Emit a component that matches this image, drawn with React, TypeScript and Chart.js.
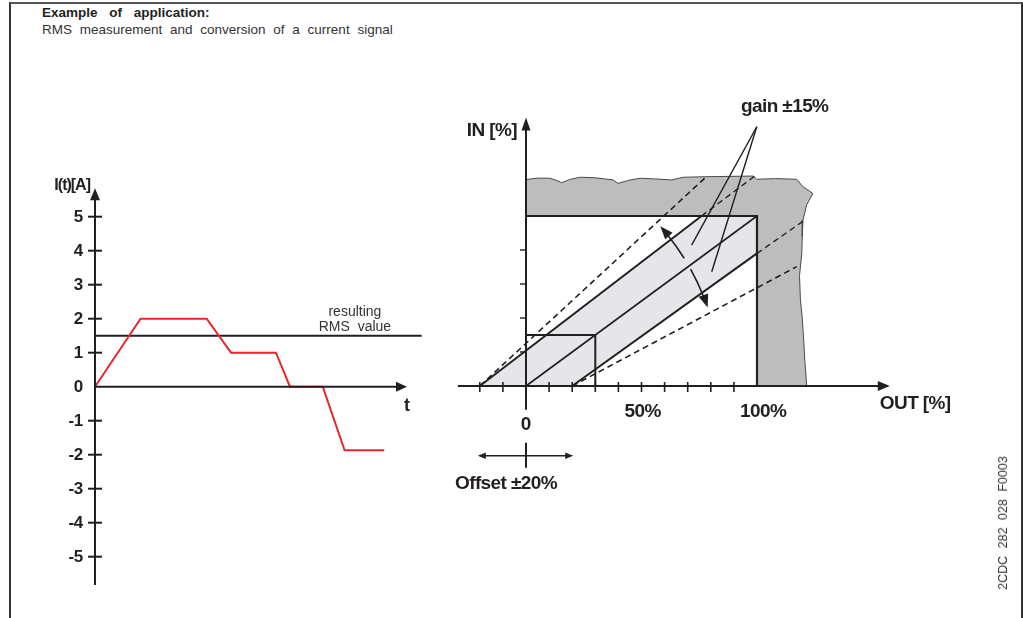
import React, { useEffect, useRef } from "react";
import { Chart, registerables } from "chart.js";

Chart.register(...registerables);

const W = 1023;
const H = 618;
const FONT = '"Liberation Sans", Arial, Helvetica, sans-serif';

// ---------- Left diagram: I(t)[A] ----------
const timePoints = [0, 1.46, 3.58, 4.36, 5.8, 6.25, 7.3, 8.0, 9.27];
const currentPoints = [0, 2, 2, 1, 1, 0, 0, -1.87, -1.87];
const rmsLevel = 1.5;
const rmsTimeSpan = [0, 10.47];
const currentTicks = [5, 4, 3, 2, 1, 0, -1, -2, -3, -4, -5];
const currentTickLabels = ["5", "4", "3", "2", "1", "0", "-1", "-2", "-3", "-4", "-5"];
const currentAxisSpan = [-5.83, 5.84];
const timeAxisSpan = [0, 10];

// ---------- Right diagram: IN [%] vs OUT [%] ----------
const outTicks = [-20, -10, 10, 20, 30, 40, 50, 60, 70, 80, 90];
const inTicks = [20, 40, 60, 80];
const outLabelValues = [50, 100];
const outLabelTexts = ["50%", "100%"];
const outAxisSpan = [-29.5, 157.5];
const inAxisSpan = [-14, 158];
const offsetRange = [-20, 20];
const offsetMarkerLevel = -41;
const gainLabelAt = { x: 112, y: 164 };

const overRangeArea = [
  { x: 0, y: 100 }, { x: 0, y: 121.4 }, { x: 5, y: 122.3 }, { x: 10.4, y: 122.2 },
  { x: 13, y: 121 }, { x: 15.5, y: 119.6 }, { x: 19, y: 121.5 }, { x: 23.4, y: 122.8 },
  { x: 30, y: 122.5 }, { x: 37.7, y: 121.2 }, { x: 39.8, y: 119.2 }, { x: 45, y: 121.2 },
  { x: 49.4, y: 122.2 }, { x: 56, y: 121.8 }, { x: 63.1, y: 121.2 }, { x: 68, y: 122.8 },
  { x: 77.5, y: 123.1 }, { x: 98.3, y: 123.5 }, { x: 99.9, y: 121.6 }, { x: 108, y: 122 },
  { x: 117.2, y: 121.6 }, { x: 119.9, y: 117.2 }, { x: 124.2, y: 113.3 }, { x: 121.5, y: 106.5 },
  { x: 119.9, y: 97.6 }, { x: 119.6, y: 88 }, { x: 119.4, y: 78.2 }, { x: 118.4, y: 65 },
  { x: 118.8, y: 50.6 }, { x: 119.6, y: 40 }, { x: 120.2, y: 27.1 }, { x: 120.7, y: 15 },
  { x: 121.5, y: 0.6 }, { x: 121.5, y: 0 }, { x: 100, y: 0 }, { x: 100, y: 100 }, { x: 0, y: 100 },
];
const offsetBand = [
  { x: -20, y: 0 }, { x: 76, y: 100 }, { x: 100, y: 100 }, { x: 100, y: 78 }, { x: 20, y: 0 }, { x: -20, y: 0 },
];
const fullScaleBox = [{ x: 0, y: 100 }, { x: 100, y: 100 }, { x: 100, y: 0 }];
const smallBox = [{ x: 0, y: 30 }, { x: 30, y: 30 }, { x: 30, y: 0 }];
const idealLine = [{ x: 0, y: 0 }, { x: 100, y: 100 }];
const negOffsetLine = [{ x: -20, y: 0 }, { x: 76, y: 100 }];
const negOffsetExtension = [{ x: 76, y: 100 }, { x: 99, y: 123.5 }];
const posOffsetLine = [{ x: 20, y: 0 }, { x: 100, y: 78 }];
const posOffsetExtension = [{ x: 100, y: 78 }, { x: 120, y: 97 }];
const gainUpLine = [{ x: -20, y: 0 }, { x: 77.5, y: 122.4 }];
const gainDownLine = [{ x: 20, y: 0 }, { x: 117.2, y: 70.2 }];
const gainLeaderA = [{ x: 99.9, y: 152.5 }, { x: 71.7, y: 82.9 }];
const gainLeaderB = [{ x: 99.9, y: 152.5 }, { x: 80.4, y: 67.2 }];

// arcs of the gain arrows (degrees, around the -20% offset origin)
const gainArcUp = [32, 41.5];
const gainArcDown = [29, 19];

function fitX(v0: number, p0: number, v1: number, p1: number) {
  const k = (p1 - p0) / (v1 - v0);
  const min = v0 - p0 / k;
  return { min, max: min + W / k };
}
function fitY(v0: number, p0: number, v1: number, p1: number) {
  const k = (p0 - p1) / (v1 - v0);
  const max = v0 + p0 / k;
  return { min: max - H / k, max };
}

function seg(ctx: any, x1: number, y1: number, x2: number, y2: number, w: number, color: string) {
  ctx.save();
  ctx.strokeStyle = color;
  ctx.lineWidth = w;
  ctx.beginPath();
  ctx.moveTo(x1, y1);
  ctx.lineTo(x2, y2);
  ctx.stroke();
  ctx.restore();
}
function head(ctx: any, tx: number, ty: number, dx: number, dy: number, len: number, half: number, color: string) {
  const n = Math.hypot(dx, dy);
  dx /= n;
  dy /= n;
  const bx = tx - dx * len;
  const by = ty - dy * len;
  ctx.save();
  ctx.fillStyle = color;
  ctx.beginPath();
  ctx.moveTo(tx, ty);
  ctx.lineTo(bx - dy * half, by + dx * half);
  ctx.lineTo(bx + dy * half, by - dx * half);
  ctx.closePath();
  ctx.fill();
  ctx.restore();
}
function txt(ctx: any, s: string, x: number, y: number, font: string, align: string, color: string, spacing = "0px", wordSpacing = "0px") {
  ctx.save();
  ctx.font = font;
  ctx.textAlign = align;
  ctx.textBaseline = "middle";
  ctx.fillStyle = color;
  try {
    ctx.letterSpacing = spacing;
    ctx.wordSpacing = wordSpacing;
  } catch (e) {}
  ctx.fillText(s, x, y);
  ctx.restore();
}

const INK = "#231f20";

const decorPlugin = {
  id: "diagramDecor",
  afterDatasetsDraw(chart: any) {
    const ctx = chart.ctx;
    const { xL, yL, xR, yR } = chart.scales;
    const bold = (s: number) => `bold ${s}px ${FONT}`;

    // ---- left axes ----
    const ax0 = xL.getPixelForValue(0);
    const ay0 = yL.getPixelForValue(0);
    const yTop = yL.getPixelForValue(currentAxisSpan[1]);
    const yBot = yL.getPixelForValue(currentAxisSpan[0]);
    seg(ctx, ax0, yBot, ax0, yTop + 8, 2, INK);
    head(ctx, ax0, yTop, 0, -1, 12, 5, INK);
    const xTip = xL.getPixelForValue(timeAxisSpan[1]);
    seg(ctx, ax0, ay0, xTip - 8, ay0, 2, INK);
    head(ctx, xTip, ay0, 1, 0, 11, 5, INK);
    currentTicks.forEach((v, i) => {
      const py = yL.getPixelForValue(v);
      if (v !== 0) seg(ctx, ax0 - 7, py, ax0 + 7, py, 2, INK);
      txt(ctx, currentTickLabels[i], ax0 - 12, py + 1, bold(17), "right", INK, "-0.3px");
    });
    txt(ctx, "I(t)[A]", ax0 - 5, yTop - 3, bold(16), "right", INK, "-1px");
    txt(ctx, "t", xTip, ay0 + 19, bold(18), "center", INK);
    const rmsY = yL.getPixelForValue(rmsLevel);
    const labX = xL.getPixelForValue(8.33);
    txt(ctx, "resulting", labX, rmsY - 24, `14px ${FONT}`, "center", "#333");
    txt(ctx, "RMS value", labX, rmsY - 9, `14px ${FONT}`, "center", "#333", "0px", "4px");

    // ---- right axes ----
    const bx0 = xR.getPixelForValue(0);
    const by0 = yR.getPixelForValue(0);
    const inTop = yR.getPixelForValue(inAxisSpan[1]);
    seg(ctx, bx0, yR.getPixelForValue(inAxisSpan[0]), bx0, inTop + 8, 2, INK);
    head(ctx, bx0, inTop, 0, -1, 13, 4.5, INK);
    inTicks.forEach((v) => {
      const py = yR.getPixelForValue(v);
      seg(ctx, bx0 - 6, py, bx0, py, 1.4, INK);
    });
    const outTip = xR.getPixelForValue(outAxisSpan[1]);
    seg(ctx, xR.getPixelForValue(outAxisSpan[0]), by0, outTip - 8, by0, 2, INK);
    head(ctx, outTip, by0, 1, 0, 12, 5, INK);
    outTicks.forEach((v) => {
      const px = xR.getPixelForValue(v);
      seg(ctx, px, by0 - 4, px, by0 + 6, 1.6, INK);
    });
    txt(ctx, "IN [%]", bx0 - 9, inTop + 13, bold(19), "right", INK, "-0.6px");
    txt(ctx, "OUT [%]", outTip - 10, by0 + 18, bold(19), "left", INK, "-0.6px");
    txt(ctx, "0", bx0, by0 + 39, bold(19), "center", INK);
    outLabelValues.forEach((v, i) => {
      txt(ctx, outLabelTexts[i], xR.getPixelForValue(v) - 17, by0 + 26, bold(19), "left", INK, "-0.6px");
    });

    // offset marker
    const oy = yR.getPixelForValue(offsetMarkerLevel);
    const ol = xR.getPixelForValue(offsetRange[0]) - 2;
    const orr = xR.getPixelForValue(offsetRange[1]) + 1;
    seg(ctx, ol + 6, oy, orr - 6, oy, 1.5, INK);
    head(ctx, ol, oy, -1, 0, 8, 3.2, INK);
    head(ctx, orr, oy, 1, 0, 8, 3.2, INK);
    seg(ctx, bx0, oy - 13, bx0, oy + 12, 2, INK);
    txt(ctx, "Offset ±20%", bx0 - 20, by0 + 98, bold(19), "center", INK, "-0.6px");

    // gain label
    txt(ctx, "gain ±15%", xR.getPixelForValue(gainLabelAt.x), yR.getPixelForValue(gainLabelAt.y), bold(19), "center", INK, "-0.6px");

    // gain arcs around the negative-offset origin
    const cx = xR.getPixelForValue(offsetRange[0]);
    const cy = by0;
    const r = 241;
    const rad = (d: number) => (d * Math.PI) / 180;
    ctx.save();
    ctx.strokeStyle = INK;
    ctx.lineWidth = 1.6;
    ctx.beginPath();
    ctx.arc(cx, cy, r, -rad(gainArcUp[0]), -rad(gainArcUp[1] - 3), true);
    ctx.stroke();
    ctx.beginPath();
    ctx.arc(cx, cy, r, -rad(gainArcDown[0]), -rad(gainArcDown[1] + 3), false);
    ctx.stroke();
    ctx.restore();
    const tU = rad(gainArcUp[1]);
    head(ctx, cx + r * Math.cos(tU), cy - r * Math.sin(tU), -Math.sin(tU), -Math.cos(tU), 13, 5, INK);
    const tD = rad(gainArcDown[1]);
    head(ctx, cx + r * Math.cos(tD), cy - r * Math.sin(tD), Math.sin(tD), Math.cos(tD), 13, 5, INK);
  },
};

function lineDs(data: any[], axes: "L" | "R", color: string, width: number, order: number, extra: any = {}) {
  return {
    data,
    xAxisID: "x" + axes,
    yAxisID: "y" + axes,
    showLine: true,
    borderColor: color,
    borderWidth: width,
    pointRadius: 0,
    pointHoverRadius: 0,
    fill: false,
    tension: 0,
    order,
    ...extra,
  };
}

export default function App() {
  const ref = useRef<HTMLCanvasElement | null>(null);

  useEffect(() => {
    if (!ref.current) return;
    const redLine = timePoints.map((t, i) => ({ x: t, y: currentPoints[i] }));
    const rmsLine = rmsTimeSpan.map((t) => ({ x: t, y: rmsLevel }));
    const dash = [6, 4];
    const chart = new Chart(ref.current, {
      type: "scatter",
      data: {
        datasets: [
          lineDs(overRangeArea, "R", "#4a4a4a", 1, 20, { fill: "shape", backgroundColor: "#bdbdbd" }),
          lineDs(offsetBand, "R", "rgba(0,0,0,0)", 0, 19, { fill: "shape", backgroundColor: "#e6e5ea" }),
          lineDs(gainUpLine, "R", INK, 1.6, 10, { borderDash: dash }),
          lineDs(gainDownLine, "R", INK, 1.6, 10, { borderDash: dash }),
          lineDs(negOffsetExtension, "R", INK, 1.4, 10, { borderDash: dash }),
          lineDs(posOffsetExtension, "R", INK, 1.4, 10, { borderDash: dash }),
          lineDs(fullScaleBox, "R", INK, 2.2, 8),
          lineDs(smallBox, "R", INK, 2, 8),
          lineDs(idealLine, "R", INK, 1.6, 7),
          lineDs(negOffsetLine, "R", INK, 2, 7),
          lineDs(posOffsetLine, "R", INK, 2, 7),
          lineDs(gainLeaderA, "R", INK, 1.4, 6),
          lineDs(gainLeaderB, "R", INK, 1.4, 6),
          lineDs(rmsLine, "L", INK, 2, 6),
          lineDs(redLine, "L", "#e8262b", 2, 5),
        ],
      },
      options: {
        responsive: false,
        animation: false,
        events: [],
        layout: { padding: 0 },
        plugins: {
          legend: { display: false },
          tooltip: { enabled: false },
          title: { display: false },
        },
        scales: {
          xL: { type: "linear", axis: "x", display: false, bounds: "data", ...fitX(0, 95, 10, 407) },
          yL: { type: "linear", axis: "y", display: false, bounds: "data", ...fitY(0, 386.7, 5, 216.7) },
          xR: { type: "linear", axis: "x", display: false, bounds: "data", ...fitX(0, 526, 100, 757) },
          yR: { type: "linear", axis: "y", display: false, bounds: "data", ...fitY(0, 386, 100, 216) },
        },
      } as any,
      plugins: [decorPlugin as any],
    });
    return () => chart.destroy();
  }, []);

  return (
    <div
      style={{
        position: "fixed",
        left: 0,
        top: 0,
        width: W,
        height: H,
        background: "#fff",
        overflow: "hidden",
        fontFamily: FONT,
        color: INK,
      }}
    >
      <div
        style={{
          position: "absolute",
          left: 9,
          top: 2,
          width: 1010,
          height: 700,
          borderLeft: "2px solid #333",
          borderTop: "2px solid #555",
          borderRight: "2px solid #333",
        }}
      />
      <div style={{ position: "absolute", left: 42, top: 5, fontSize: 13.5, fontWeight: "bold", wordSpacing: 8, whiteSpace: "nowrap" }}>
        Example of application:
      </div>
      <div style={{ position: "absolute", left: 42, top: 22, fontSize: 13.5, wordSpacing: 4, whiteSpace: "nowrap", color: "#333" }}>
        RMS measurement and conversion of a current signal
      </div>
      <canvas ref={ref} width={W} height={H} style={{ position: "absolute", left: 0, top: 0, width: W, height: H }} />
      <div
        style={{
          position: "absolute",
          left: 1003,
          top: 523,
          transform: "translate(-50%, -50%) rotate(-90deg)",
          fontSize: 12.5,
          wordSpacing: 4,
          whiteSpace: "nowrap",
          color: "#333",
        }}
      >
        2CDC 282 028 F0003
      </div>
    </div>
  );
}
